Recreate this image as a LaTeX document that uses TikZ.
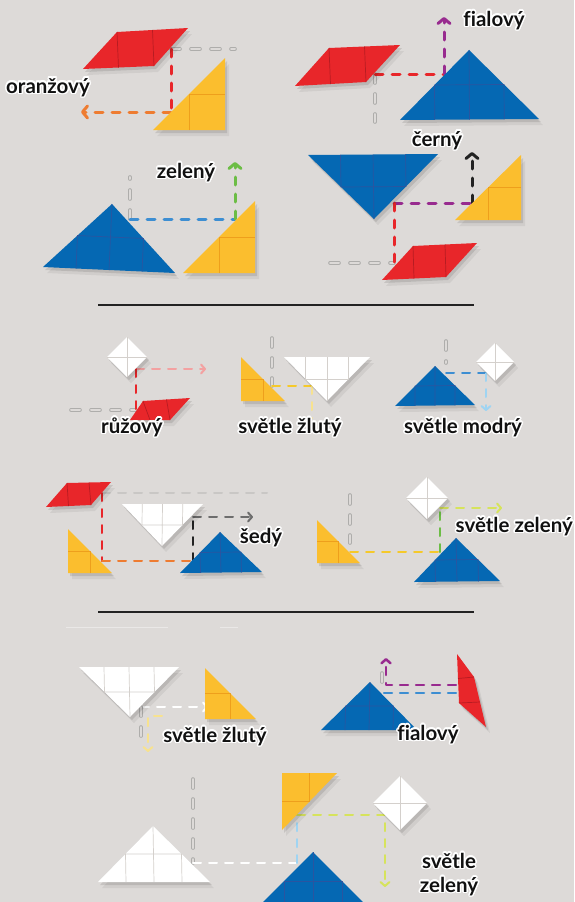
\documentclass[tikz,border=0pt]{standalone}
\usepackage{fontspec}
\setmainfont{Lato}[Ligatures=NoCommon]
\usepackage{contour}
\contourlength{1.5pt}
\contournumber{16}
\usetikzlibrary{calc,arrows.meta}
\definecolor{pozadi}{HTML}{DDDAD8}
\definecolor{popis}{HTML}{111111}
\definecolor{cervena}{HTML}{E8262A}
\definecolor{cervenasev}{HTML}{B71C22}
\definecolor{zluta}{HTML}{FBBE2E}
\definecolor{zlutasev}{HTML}{EE9F1C}
\definecolor{modra}{HTML}{0568B3}
\definecolor{modrasev}{HTML}{2A55A0}
\definecolor{bila}{HTML}{FFFFFF}
\definecolor{bilasev}{HTML}{D4D0CC}
\definecolor{oranzova}{HTML}{EE7C31}
\definecolor{fialova}{HTML}{982B8F}
\definecolor{modrac}{HTML}{3D8ED2}
\definecolor{zelena}{HTML}{6CBD45}
\definecolor{cerna}{HTML}{222222}
\definecolor{ruzova}{HTML}{F3A1A1}
\definecolor{seda}{HTML}{6D6D6D}
\definecolor{svetleseda}{HTML}{C9C7C5}
\definecolor{zlutacara}{HTML}{F5C92A}
\definecolor{svetlezluta}{HTML}{F7E28F}
\definecolor{svetlemodra}{HTML}{9FD4F2}
\definecolor{svetlezelena}{HTML}{D6E35C}
\definecolor{duchseda}{HTML}{AEADAB}

% dily tangramu: barva, vrcholy
\newcommand{\velkytroj}[4]{%
  \fill[#1, dil] #2 -- #3 -- #4 -- cycle;
  \draw[#1sev, sev] ($#2!0.25!#4$) -- ($#2!0.5!#3$) -- ($#3!0.5!#4$) -- ($#2!0.75!#4$)
    #3 -- ($#2!0.5!#4$);
}
\newcommand{\maltroj}[4]{%
  \fill[#1, dil] #2 -- #3 -- #4 -- cycle;
  \draw[#1sev, sev] ($#2!0.5!#4$) -- ($#3!0.5!#4$) -- ($#2!0.5!#3$);
}
\newcommand{\kosodelnik}[5]{%
  \fill[#1, dil] #2 -- #3 -- #4 -- #5 -- cycle;
  \draw[#1sev, sev] #3 -- ($#2!0.5!#5$) ($#3!0.5!#4$) -- #5;
}
\newcommand{\ctverec}[3]{%
  \fill[#1, dil] ($#2+(-#3,0)$) -- ($#2+(0,-#3)$) -- ($#2+(#3,0)$) -- ($#2+(0,#3)$) -- cycle;
  \draw[#1sev, sev] ($#2+(-#3,0)$) -- ($#2+(#3,0)$) ($#2+(0,-#3)$) -- ($#2+(0,#3)$);
}

\begin{document}
\begin{tikzpicture}[x=1pt, y=-1pt, line join=round,
  dil/.style={preaction={fill=black, opacity=0.10, transform canvas={shift={(2pt,-3pt)}}},
    preaction={fill=black, opacity=0.06, transform canvas={shift={(4pt,-6pt)}}}},
  sev/.style={line width=0.7pt},
  cara/.style={line width=3pt, line cap=round, dash pattern=on 8pt off 9pt},
  tenka/.style={line width=2pt, line cap=round, dash pattern=on 8pt off 8pt},
  sipka/.style={-{Straight Barb[length=5pt,width=12pt,round]}},
  malasipka/.style={-{Straight Barb[length=4pt,width=9pt,round]}},
  duch/.style={line width=3.6pt, draw=duchseda, line cap=round, dash pattern=on 9pt off 11pt,
    postaction={draw=pozadi, line width=2pt, line cap=round, dash pattern=on 9pt off 11pt}},
  popisek/.style={font=\fontsize{20.5}{22}\selectfont\bfseries, text=popis, inner sep=0pt}]
  \clip (0,0) rectangle (574,902);
  \fill[pozadi] (0,0) rectangle (574,902);

  % horni cast
  \coordinate (a1) at (171,49); \coordinate (a2) at (171,112);
  \coordinate (a3) at (81,112); \coordinate (a4) at (235,49);
  \draw[duch] (a1) -- (a4);
  \draw[cervena, cara] (a1) -- (a2);
  \draw[oranzova, cara, sipka] (a2) -- (a3);
  \kosodelnik{cervena}{(83,69)}{(117,32)}{(188,28)}{(154,66)}
  \maltroj{zluta}{(225,130)}{(225,58)}{(153,130)}
  \node[popisek] (oranzovy) at (48,88) {\contour{white}{oranžový}};

  \coordinate (b1) at (375,74); \coordinate (b2) at (444,74);
  \coordinate (b3) at (444,17); \coordinate (b4) at (375,122);
  \draw[duch] (b1) -- (b4);
  \draw[cervena, cara] (b1) -- (b2);
  \draw[fialova, cara, sipka] (b2) -- (b3);
  \kosodelnik{cervena}{(295,86)}{(329,48)}{(400,45)}{(366,82)}
  \velkytroj{modra}{(400,120)}{(469,50)}{(539,119)}
  \node[popisek] (fialovy) at (494,21) {\contour{white}{fialový}};

  \coordinate (c1) at (130,219); \coordinate (c2) at (235,219);
  \coordinate (c3) at (235,162); \coordinate (c4) at (130,177);
  \draw[duch] (c1) -- (c4);
  \draw[modrac, cara] (c1) -- (c2);
  \draw[zelena, cara, sipka] (c2) -- (c3);
  \velkytroj{modra}{(43,267)}{(112,204)}{(175,273)}
  \maltroj{zluta}{(255,273)}{(255,201)}{(183,273)}
  \node[popisek] (zeleny) at (186,173) {\contour{white}{zelený}};

  \coordinate (d1) at (394,203); \coordinate (d2) at (472,203);
  \coordinate (d3) at (472,152); \coordinate (d4) at (394,263);
  \coordinate (d5) at (330,263);
  \draw[duch] (d5) -- (d4);
  \draw[fialova, cara] (d1) -- (d2);
  \draw[cerna, cara, sipka] (d2) -- (d3);
  \draw[cervena, cara] (d1) -- (d4);
  \velkytroj{modra}{(308,155)}{(374,219)}{(438,154)}
  \maltroj{zluta}{(521,220)}{(521,155)}{(455,220)}
  \kosodelnik{cervena}{(382,280)}{(413,246)}{(477,243)}{(446,277)}
  \node[popisek] (cerny) at (437,141) {\contour{white}{černý}};

  \draw[cerna, line width=1.5pt] (98,305) -- (474,305);

  % prostredni cast
  \coordinate (e1) at (136,369); \coordinate (e2) at (206,369);
  \coordinate (e3) at (136,410); \coordinate (e4) at (71,410);
  \draw[duch] (e4) -- (e3);
  \draw[ruzova, tenka, malasipka] (e1) -- (e2);
  \draw[cervena, tenka] (e1) -- (e3);
  \ctverec{bila}{(127,357)}{20}
  \kosodelnik{cervena}{(130,420)}{(143,401)}{(190,398)}{(170,420)}

  \coordinate (f1) at (272,386); \coordinate (f2) at (312,386);
  \coordinate (f3) at (312,418); \coordinate (f4) at (272,338);
  \draw[duch] (f4) -- (f1);
  \draw[zlutacara, tenka] (f1) -- (f2);
  \draw[svetlezluta, tenka] (f2) -- (f3);
  \maltroj{zluta}{(241,401)}{(241,357)}{(285,401)}
  \velkytroj{bila}{(284,357)}{(327,401)}{(370,357)}

  \coordinate (g1) at (446,373); \coordinate (g2) at (486,373);
  \coordinate (g3) at (486,411); \coordinate (g4) at (446,341);
  \coordinate (g5) at (446,363);
  \draw[duch] (g4) -- (g5);
  \draw[modrac, tenka] (g1) -- (g2);
  \draw[svetlemodra, tenka, malasipka] (g2) -- (g3);
  \velkytroj{modra}{(395,406)}{(435,366)}{(475,405)}
  \ctverec{bila}{(495,362)}{19}

  \node[popisek] (ruzovy) at (132,428) {\contour{white}{růžový}};
  \node[popisek] (svzluty) at (290,428) {\contour{white}{světle žlutý}};
  \node[popisek] (svmodry) at (463,428) {\contour{white}{světle modrý}};

  \coordinate (h1) at (102,493); \coordinate (h2) at (267,493);
  \coordinate (h3) at (102,561); \coordinate (h4) at (193,561);
  \coordinate (h5) at (193,517); \coordinate (h6) at (253,517);
  \draw[svetleseda, tenka] (h1) -- (h2);
  \draw[cervena, tenka] (h1) -- (h3);
  \draw[oranzova, tenka] (h3) -- (h4);
  \draw[cerna, tenka] (h4) -- (h5);
  \draw[seda, tenka, malasipka] (h5) -- (h6);
  \kosodelnik{cervena}{(46,507)}{(67,483)}{(111,482)}{(91,505)}
  \maltroj{zluta}{(68,573)}{(68,529)}{(112,573)}
  \velkytroj{bila}{(122,504)}{(162,546)}{(203,504)}
  \velkytroj{modra}{(180,573)}{(220,532)}{(262,572)}
  \node[popisek] (sedy) at (261,538) {\contour{white}{šedý}};

  \coordinate (i1) at (350,552); \coordinate (i2) at (440,552);
  \coordinate (i3) at (440,508); \coordinate (i4) at (502,508);
  \coordinate (i5) at (350,495); \coordinate (i6) at (350,543);
  \draw[duch] (i5) -- (i6);
  \draw[zlutacara, tenka] (i1) -- (i2);
  \draw[zelena, tenka] (i2) -- (i3);
  \draw[svetlezelena, tenka, malasipka] (i3) -- (i4);
  \maltroj{zluta}{(317,563)}{(317,520)}{(360,563)}
  \ctverec{bila}{(427,498)}{21}
  \velkytroj{modra}{(414,582)}{(456,538)}{(500,581)}
  \node[popisek, anchor=east] (svzeleny) at (573,527) {\contour{white}{světle zelený}};

  \draw[cerna, line width=1.5pt] (98,612) -- (474,612);
  \draw[white, opacity=0.4, line width=0.8pt] (66,627) -- (168,627) (220,627) -- (238,627);

  % dolni cast
  \coordinate (j1) at (141,707); \coordinate (j2) at (208,707);
  \coordinate (j3) at (141,747); \coordinate (j4) at (162,716);
  \coordinate (j5) at (148,716); \coordinate (j6) at (148,752);
  \draw[bila, tenka, malasipka] (j1) -- (j2);
  \draw[duch] (j1) -- (j3);
  \draw[svetlezluta, tenka, malasipka] (j4) -- (j5) -- (j6);
  \velkytroj{bila}{(79,667)}{(130,717)}{(179,667)}
  \maltroj{zluta}{(205,719)}{(205,668)}{(256,719)}
  \node[popisek] (svzluty2) at (215,737) {\contour{white}{světle žlutý}};

  \coordinate (k1) at (456,685); \coordinate (k2) at (386,685);
  \coordinate (k3) at (386,658); \coordinate (k4) at (384,693);
  \coordinate (k5) at (458,693); \coordinate (k6) at (382,673);
  \coordinate (k7) at (382,685);
  \draw[duch] (k6) -- (k7);
  \draw[fialova, tenka, line width=2.5pt, malasipka] (k1) -- (k2) -- (k3);
  \draw[modrac, tenka, line width=2.5pt] (k4) -- (k5);
  \velkytroj{modra}{(321,730)}{(370,682)}{(417,730)}
  \kosodelnik{cervena}{(457,654)}{(474,677)}{(486,727)}{(459,703)}
  \node[popisek] (fialovy2) at (428,735) {\contour{white}{fialový}};

  \coordinate (l1) at (193,863); \coordinate (l2) at (297,863);
  \coordinate (l3) at (297,815); \coordinate (l4) at (385,815);
  \coordinate (l5) at (385,887); \coordinate (l6) at (193,779);
  \draw[duch] (l6) -- (l1);
  \draw[bila, tenka] (l1) -- (l2);
  \draw[svetlemodra, tenka] (l2) -- (l3);
  \draw[svetlezelena, tenka, malasipka] (l3) -- (l4) -- (l5);
  \velkytroj{bila}{(98,882)}{(153,826)}{(210,882)}
  \maltroj{zluta}{(282,773)}{(282,830)}{(337,773)}
  \ctverec{bila}{(400,803)}{27}
  \velkytroj{modra}{(255,910)}{(313,852)}{(371,910)}
  \node[popisek, align=center, font=\fontsize{20.5}{24}\selectfont\bfseries] (svzeleny2) at (449,875)
    {\contour{white}{světle}\\\contour{white}{zelený}};
\end{tikzpicture}
\end{document}
